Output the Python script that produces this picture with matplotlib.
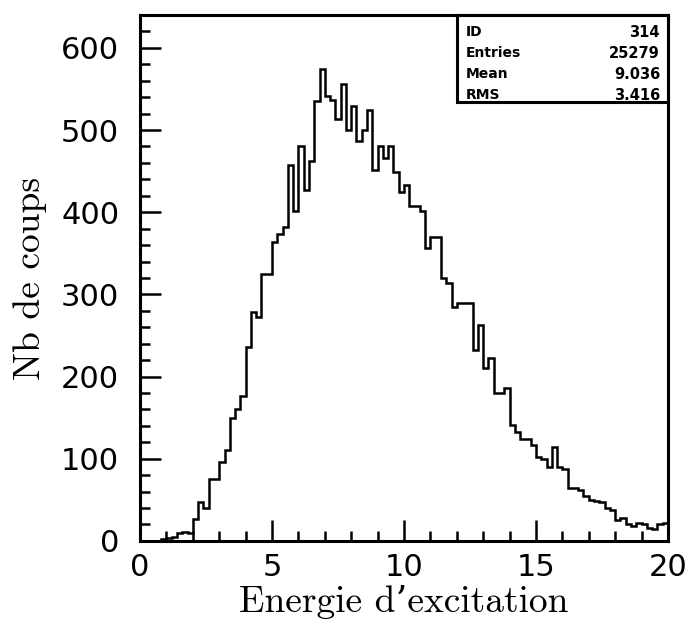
import matplotlib
matplotlib.use("Agg")
import matplotlib.pyplot as plt
from matplotlib.patches import Rectangle
from matplotlib.ticker import MultipleLocator
import numpy as np

# histogramme : 100 canaux de 0.2 entre 0 et 20
x_min, x_max, n_bins = 0.0, 20.0, 100
counts = [
    0, 0, 0, 0, 2, 3, 5, 10, 11, 10,
    27, 47, 40, 75, 75, 96, 111, 149, 161, 176,
    236, 278, 273, 325, 325, 364, 374, 382, 458, 402,
    480, 427, 462, 535, 574, 541, 537, 513, 556, 500,
    529, 487, 500, 524, 451, 480, 466, 480, 449, 425,
    433, 408, 408, 402, 357, 370, 370, 320, 314, 285,
    290, 290, 290, 232, 263, 210, 222, 180, 180, 186,
    141, 133, 124, 124, 117, 102, 100, 90, 114, 90,
    88, 64, 64, 62, 54, 50, 49, 47, 40, 38,
    26, 28, 21, 18, 22, 21, 16, 15, 20, 22,
]

stat_names = ["ID", "Entries", "Mean", "RMS"]
stat_values = ["314", "25279", "9.036", "3.416"]

edges = np.linspace(x_min, x_max, n_bins + 1)

fig = plt.figure(figsize=(6.9, 6.26), dpi=100)
ax = fig.add_axes([0.203, 0.136, 0.765, 0.840])

ax.stairs(counts, edges, color="black", lw=1.8, baseline=None)

ax.set_xlim(0, 20)
ax.set_ylim(0, 640)
for s in ax.spines.values():
    s.set_linewidth(2.2)

ax.xaxis.set_major_locator(MultipleLocator(5))
ax.xaxis.set_minor_locator(MultipleLocator(1))
ax.yaxis.set_major_locator(MultipleLocator(100))
ax.yaxis.set_minor_locator(MultipleLocator(20))
ax.tick_params(which="both", direction="in", top=False, right=False, width=1.8)
ax.tick_params(which="major", length=15, labelsize=22)
ax.tick_params(which="minor", length=7)
ax.tick_params(axis="x", pad=9)
ax.tick_params(axis="y", pad=15)

serif = ["cmr10", "DejaVu Serif"]
ax.set_xlabel("Energie d\u2019excitation", fontsize=27, family=serif)
ax.set_ylabel("Nb de coups", fontsize=27, family=serif)
ax.xaxis.set_label_coords(0.5, -0.083)
ax.yaxis.set_label_coords(-0.176, 0.5)

# boite de statistiques
ax.add_patch(Rectangle((0.60, 0.834), 0.40, 0.166, transform=ax.transAxes,
                       fill=False, lw=2.2, color="black", clip_on=False))
row_y = [0.967, 0.927, 0.887, 0.847]
for name, val, yy in zip(stat_names, stat_values, row_y):
    ax.text(0.617, yy, name, transform=ax.transAxes, fontsize=10,
            fontweight="bold", ha="left", va="center")
    ax.text(0.985, yy, val, transform=ax.transAxes, fontsize=10.5,
            fontweight="bold", ha="right", va="center")

fig.savefig("out.png", dpi=100)
